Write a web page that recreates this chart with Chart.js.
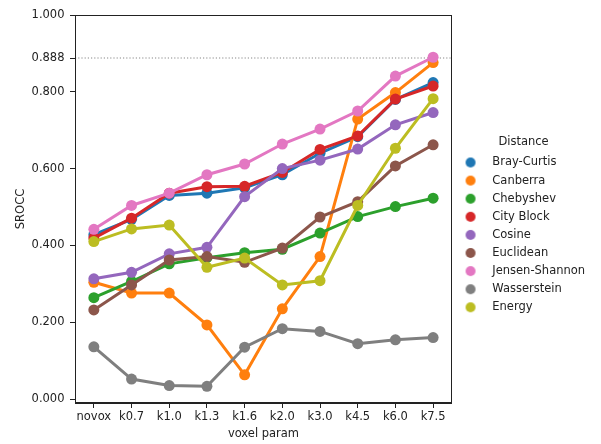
<!DOCTYPE html>
<html><head><meta charset="utf-8">
<script src="https://cdn.jsdelivr.net/npm/chart.js@4"></script>
<style>html,body{margin:0;padding:0;background:#fff}#wrap{width:601px;height:444px}</style>
</head><body><div id="wrap"><canvas id="c" width="601" height="444"></canvas></div>
<script>
const categories = ['novox','k0.7','k1.0','k1.3','k1.6','k2.0','k3.0','k4.5','k6.0','k7.5'];
const seriesNames = ['Bray-Curtis','Canberra','Chebyshev','City Block','Cosine','Euclidean','Jensen-Shannon','Wasserstein','Energy'];
const brayCurtis    = [0.428,0.468,0.530,0.536,0.550,0.584,0.640,0.683,0.780,0.824];
const canberra      = [0.304,0.276,0.276,0.193,0.063,0.235,0.371,0.729,0.798,0.876];
const chebyshev     = [0.264,0.306,0.352,0.368,0.381,0.390,0.432,0.475,0.501,0.523];
const cityBlock     = [0.419,0.471,0.536,0.553,0.554,0.590,0.650,0.685,0.781,0.815];
const cosine        = [0.313,0.330,0.378,0.395,0.527,0.600,0.622,0.651,0.714,0.746];
const euclidean     = [0.232,0.297,0.362,0.371,0.356,0.393,0.474,0.514,0.607,0.662];
const jensenShannon = [0.442,0.504,0.536,0.584,0.612,0.664,0.703,0.750,0.841,0.890];
const wasserstein   = [0.136,0.052,0.035,0.033,0.135,0.183,0.176,0.144,0.154,0.160];
const energy        = [0.410,0.443,0.453,0.343,0.367,0.297,0.308,0.504,0.653,0.782];
const yTicks = [0, 0.2, 0.4, 0.6, 0.8, 0.888, 1.0];
const refLine = 0.888;

const seriesValues = [brayCurtis, canberra, chebyshev, cityBlock, cosine, euclidean, jensenShannon, wasserstein, energy];
const colors = ['#1f77b4','#ff7f0e','#2ca02c','#d62728','#9467bd','#8c564b','#e377c2','#7f7f7f','#bcbd22'];
const FS = 11.5;
const font = {family: 'DejaVu Sans', size: FS};
const textColor = '#222';

function legendImg(color) {
  const c = document.createElement('canvas');
  c.width = 28; c.height = 12;
  const x = c.getContext('2d');
  x.fillStyle = color;
  x.beginPath(); x.arc(12, 6, 5, 0, Math.PI * 2); x.fill();
  return c;
}
const legendImgs = colors.map(legendImg);

const n = seriesValues.length;
const datasets = seriesValues.map((vals, i) => ({
  label: seriesNames[i],
  data: vals,
  borderColor: colors[i],
  backgroundColor: colors[i],
  pointBackgroundColor: colors[i],
  pointBorderColor: colors[i],
  pointBorderWidth: 0,
  pointRadius: 5.5,
  pointHoverRadius: 5.5,
  borderWidth: 3,
  tension: 0,
  fill: false,
  order: n - 1 - i
}));

const framePlugin = {
  id: 'frame',
  beforeDatasetsDraw(chart) {
    const {ctx, chartArea: a, scales: {y}} = chart;
    const py = y.getPixelForValue(refLine);
    ctx.save();
    ctx.strokeStyle = '#888';
    ctx.lineWidth = 1.2;
    ctx.setLineDash([1.2, 2]);
    ctx.beginPath(); ctx.moveTo(a.left, py); ctx.lineTo(a.right, py); ctx.stroke();
    ctx.restore();
  },
  afterDatasetsDraw(chart) {
    const {ctx, chartArea: a} = chart;
    ctx.save();
    ctx.strokeStyle = '#222';
    ctx.lineWidth = 1;
    ctx.strokeRect(Math.round(a.left) + 0.5, Math.round(a.top) + 0.5, Math.round(a.right - a.left) - 1, Math.round(a.bottom - a.top) - 1);
    ctx.restore();
  }
};

new Chart(document.getElementById('c'), {
  type: 'line',
  data: {labels: categories, datasets},
  plugins: [framePlugin],
  options: {
    responsive: false,
    animation: false,
    devicePixelRatio: 1,
    layout: {padding: {left: 0, right: 5.9, top: 15, bottom: 3}},
    plugins: {
      tooltip: {enabled: false},
      legend: {
        position: 'right',
        title: {display: true, text: 'Distance', font, color: textColor, padding: 0},
        labels: {
          font, color: textColor,
          usePointStyle: true,
          pointStyleWidth: 28,
          boxHeight: 12,
          padding: 6.6,
          generateLabels: (chart) => chart.data.datasets.map((ds, i) => ({
            text: ds.label, fillStyle: ds.borderColor, strokeStyle: ds.borderColor,
            lineWidth: 0, pointStyle: legendImgs[i], datasetIndex: i, hidden: false, fontColor: textColor
          }))
        }
      }
    },
    scales: {
      x: {
        offset: true,
        afterFit: (s) => { s.height = 38; },
        grid: {offset: false, drawOnChartArea: false, drawTicks: true, tickLength: 5, tickColor: '#222', tickWidth: 1},
        border: {display: true, color: '#222', width: 1},
        ticks: {font, color: textColor, padding: 2.4, maxRotation: 0, autoSkip: false},
        title: {display: true, text: 'voxel param', font, color: textColor, padding: {top: 0, bottom: 0}}
      },
      y: {
        min: -0.0104, max: 1.0,
        afterFit: (s) => { s.width = 75; },
        afterBuildTicks: (s) => { s.ticks = yTicks.map(v => ({value: v})); },
        grid: {drawOnChartArea: false, drawTicks: true, tickLength: 5, tickColor: '#222', tickWidth: 1},
        border: {display: true, color: '#222', width: 1},
        ticks: {font, color: textColor, padding: 5.5, autoSkip: false, callback: (v) => Number(v).toFixed(3)},
        title: {display: true, text: 'SROCC', font, color: textColor, padding: {top: 14, bottom: 0}}
      }
    }
  }
});
</script>
</body></html>
